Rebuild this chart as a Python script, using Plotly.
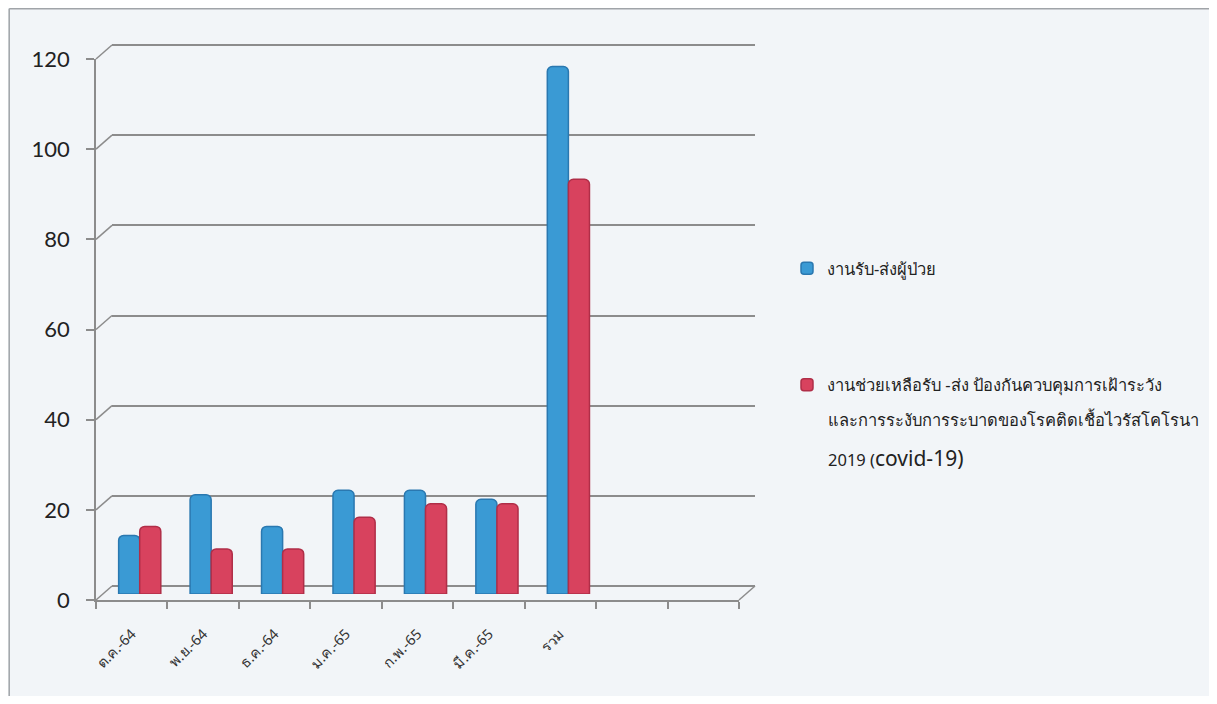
import plotly.graph_objects as go

categories = ["ต.ค.-64", "พ.ย.-64", "ธ.ค.-64", "ม.ค.-65", "ก.พ.-65", "มี.ค.-65", "รวม"]
series1_name = "งานรับ-ส่งผู้ป่วย"
series1 = [13, 22, 15, 23, 23, 21, 117]
series2_name = "งานช่วยเหลือรับ -ส่ง ป้องกันควบคุมการเฝ้าระวัง"
series2_extra = ["และการระงับการระบาดของโรคติดเชื้อไวรัสโคโรนา",
                 "2019 (<span style=\"font-size:21px\">covid-19)</span>"]
series2 = [15, 10, 10, 17, 20, 20, 92]
y_ticks = [0, 20, 40, 60, 80, 100, 120]
y_max = 120
n_slots = 9

# figure size = window minus the page's default 8px body margin
W, H = 1201, 688
OX, OY = 8, 8
BG = "#f2f5f8"
GRID = "#8c8c8c"
FRAME = "#a0a4a8"

# plane geometry in reference-screen pixels
fx0, fx1, fyb, fyt = 96, 739, 600, 59      # front plane
dx, dy = 16, 14                              # depth offset
mx, my = 8, 6                                # bar plane offset

def px(x):
    return (x - OX) / W

def py(y):
    return 1 - (y - OY) / H

x_idx = list(range(len(categories)))
xr = [-0.5, n_slots - 0.5]

# back wall: pad range by 1 unit each side (and the domain by the same pixels)
unit_px = (fyb - fyt) / y_max
pad = 1

fig = go.Figure()
fig.add_trace(go.Scatter(x=[], y=[], xaxis="x2", yaxis="y2", showlegend=False, hoverinfo="skip"))
fig.add_trace(go.Scatter(x=[], y=[], xaxis="x", yaxis="y", showlegend=False, hoverinfo="skip"))
fig.add_trace(go.Bar(x=x_idx, y=series1, name=series1_name, xaxis="x3", yaxis="y3",
                     marker=dict(color="#3a9ad4", line=dict(color="#2a78b0", width=1.5),
                                 cornerradius=5),
                     legendgroup="a"))
fig.add_trace(go.Bar(x=x_idx, y=series2, name=series2_name, xaxis="x3", yaxis="y3",
                     marker=dict(color="#d8425e", line=dict(color="#b02e48", width=1.5),
                                 cornerradius=5),
                     legendgroup="b"))

shapes = []
for t in y_ticks:
    yf = fyb - unit_px * t
    shapes.append(dict(type="line", xref="paper", yref="paper",
                       x0=px(fx0), y0=py(yf), x1=px(fx0 + dx), y1=py(yf - dy),
                       line=dict(color=GRID, width=1.5)))
shapes.append(dict(type="line", xref="paper", yref="paper",
                   x0=px(fx1), y0=py(fyb), x1=px(fx1 + dx), y1=py(fyb - dy),
                   line=dict(color=GRID, width=1.5)))
# chart frame: left and top edges
shapes.append(dict(type="line", xref="paper", yref="paper", x0=0.001, y0=0, x1=0.001, y1=0.999,
                   line=dict(color=FRAME, width=1.5)))
shapes.append(dict(type="line", xref="paper", yref="paper", x0=0.001, y0=0.999, x1=1, y1=0.999,
                   line=dict(color=FRAME, width=1.5)))

fig.update_layout(
    width=W, height=H,
    margin=dict(l=0, r=0, t=0, b=0, pad=0, autoexpand=False),
    paper_bgcolor=BG, plot_bgcolor="rgba(0,0,0,0)",
    barmode="group", bargap=0.41, bargroupgap=0,
    showlegend=True,
    legend=dict(x=px(787), y=py(251), xanchor="left", yanchor="top",
                font=dict(family="Noto Sans, sans-serif", size=16.5, color="#222"),
                traceorder="grouped", tracegroupgap=92, bgcolor="rgba(0,0,0,0)",
                itemwidth=30),
    shapes=shapes,
    xaxis=dict(domain=[px(fx0), px(fx1)], range=xr, anchor="y",
               tickmode="array", tickvals=x_idx, ticktext=categories,
               ticks="", tickangle=-45, showgrid=False, zeroline=False,
               showline=True, linecolor=GRID, linewidth=1.5, ticklabelstandoff=18,
               minor=dict(tickmode="array", tickvals=[i - 0.5 for i in range(n_slots + 1)],
                          ticks="outside", ticklen=7, tickcolor=GRID, tickwidth=1.5),
               tickfont=dict(family="Noto Sans, sans-serif", size=14.5, color="#333")),
    yaxis=dict(domain=[py(fyb), py(fyt)], range=[0, y_max], anchor="x",
               tickmode="array", tickvals=y_ticks, ticks="outside", ticklen=8,
               tickcolor=GRID, tickwidth=1.5, ticklabelstandoff=12,
               showgrid=False, zeroline=False, showline=True, linecolor=GRID, linewidth=1.5,
               tickfont=dict(family="Lato, sans-serif", size=22, color="#222")),
    xaxis2=dict(domain=[px(fx0 + dx), px(fx1 + dx)], range=xr, anchor="y2",
                showticklabels=False, ticks="", showgrid=False, zeroline=False, showline=False),
    yaxis2=dict(domain=[py(fyb - dy + pad * unit_px), py(fyt - dy - pad * unit_px)],
                range=[-pad, y_max + pad], anchor="x2",
                tickmode="array", tickvals=y_ticks, showticklabels=False, ticks="",
                showgrid=True, gridcolor=GRID, gridwidth=1.5, zeroline=False, showline=False),
    xaxis3=dict(domain=[px(fx0 + mx), px(fx1 + mx)], range=xr, anchor="y3",
                visible=False, showgrid=False),
    yaxis3=dict(domain=[py(fyb - my), py(fyt - my)], range=[0, y_max], anchor="x3",
                visible=False, showgrid=False),
)

annotations = []
for i, line in enumerate(series2_extra):
    annotations.append(dict(xref="paper", yref="paper", x=px(826), y=py(420 + 38 * i),
                            xanchor="left", yanchor="middle", showarrow=False, text=line,
                            font=dict(family="Noto Sans, sans-serif", size=16.5, color="#222")))
fig.update_layout(annotations=annotations)

fig.write_html("out.html")
